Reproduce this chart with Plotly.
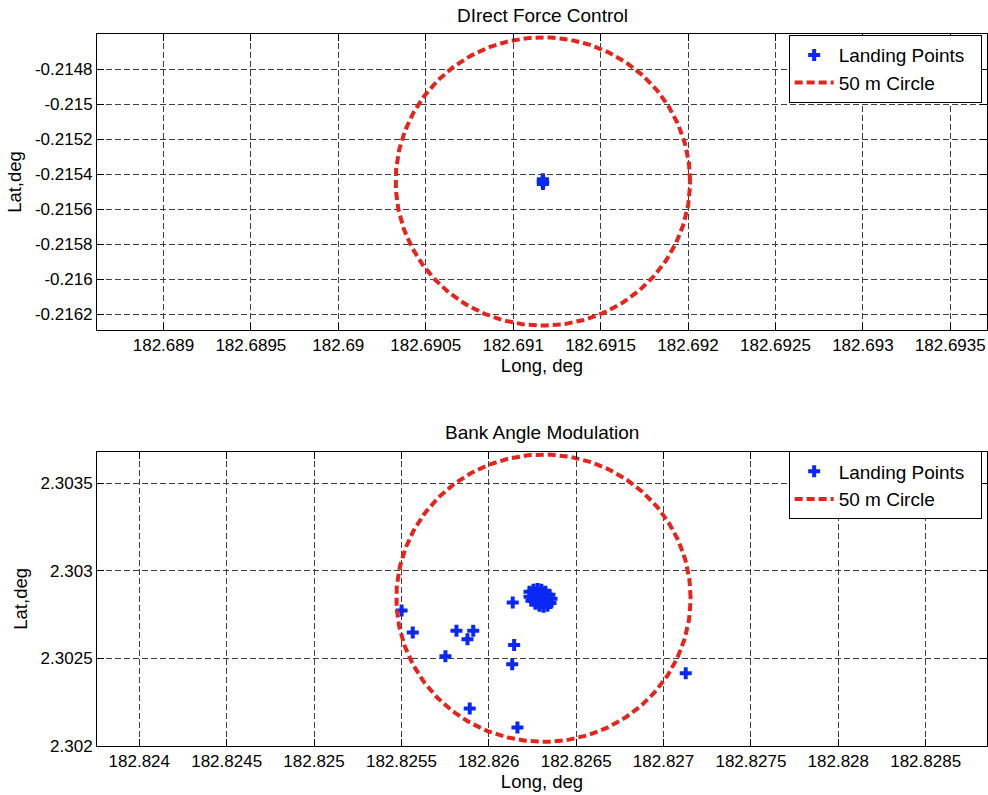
import numpy as np
import plotly.graph_objects as go

# ---------------- data ----------------
# Panel 1: Direct Force Control
dfc_long = [182.691170, 182.691171, 182.691169, 182.691172, 182.691170]
dfc_lat = [-0.215430, -0.215436, -0.215442, -0.215448, -0.215456]
dfc_circle_center = [182.691170, -0.215442]
dfc_circle_radius = [0.000842, 0.000823]

# Panel 2: Bank Angle Modulation
bam_long = [182.825501, 182.825565, 182.825815, 182.825911, 182.825878, 182.825752,
            182.825891, 182.826137, 182.826145, 182.826134, 182.826164, 182.827127,
            182.826233, 182.826256, 182.826279, 182.826301, 182.826324, 182.826347,
            182.826359, 182.826353, 182.826336, 182.826313, 182.826290, 182.826267,
            182.826244, 182.826233, 182.826267, 182.826296, 182.826324, 182.826284,
            182.826307, 182.826256]
bam_lat = [2.302773, 2.302648, 2.302658, 2.302658, 2.302610, 2.302513,
           2.302214, 2.302819, 2.302576, 2.302467, 2.302106, 2.302416,
           2.302880, 2.302892, 2.302897, 2.302892, 2.302880, 2.302863,
           2.302840, 2.302817, 2.302800, 2.302795, 2.302800, 2.302812,
           2.302829, 2.302852, 2.302863, 2.302852, 2.302834, 2.302829,
           2.302869, 2.302846]
bam_circle_center = [182.826313, 2.302844]
bam_circle_radius = [0.000842, 0.000820]

# ticks
dfc_xticks = [182.689, 182.6895, 182.69, 182.6905, 182.691, 182.6915, 182.692, 182.6925, 182.693, 182.6935]
dfc_xtext = ["182.689", "182.6895", "182.69", "182.6905", "182.691", "182.6915", "182.692", "182.6925", "182.693", "182.6935"]
dfc_yticks = [-0.2148, -0.215, -0.2152, -0.2154, -0.2156, -0.2158, -0.216, -0.2162]
dfc_ytext = ["-0.2148", "-0.215", "-0.2152", "-0.2154", "-0.2156", "-0.2158", "-0.216", "-0.2162"]
bam_xticks = [182.824, 182.8245, 182.825, 182.8255, 182.826, 182.8265, 182.827, 182.8275, 182.828, 182.8285]
bam_xtext = ["182.824", "182.8245", "182.825", "182.8255", "182.826", "182.8265", "182.827", "182.8275", "182.828", "182.8285"]
bam_yticks = [2.302, 2.3025, 2.303, 2.3035]
bam_ytext = ["2.302", "2.3025", "2.303", "2.3035"]

titles = ["DIrect Force Control", "Bank Angle Modulation"]
series_names = ["Landing Points", "50 m Circle"]

# ---------------- figure ----------------
FONT = "Liberation Sans, Arial, Helvetica, sans-serif"
BLUE = "#0a28f5"
RED = "#e8231c"
PAD = "\u00a0\u00a0"

theta = np.linspace(0, 2 * np.pi, 361)


def circle(center, radius):
    return (center[0] + radius[0] * np.cos(theta),
            center[1] + radius[1] * np.sin(theta))


fig = go.Figure()

cx, cy = circle(dfc_circle_center, dfc_circle_radius)
fig.add_trace(go.Scatter(x=dfc_long, y=dfc_lat, mode="markers", name=series_names[0] + PAD,
                         marker=dict(symbol="cross", size=10, color=BLUE),
                         xaxis="x", yaxis="y", legend="legend"))
fig.add_trace(go.Scatter(x=cx, y=cy, mode="lines", name=series_names[1] + PAD,
                         line=dict(color=RED, width=4, dash="8px,4px"),
                         xaxis="x", yaxis="y", legend="legend"))

cx2, cy2 = circle(bam_circle_center, bam_circle_radius)
fig.add_trace(go.Scatter(x=bam_long, y=bam_lat, mode="markers", name=series_names[0] + PAD,
                         marker=dict(symbol="cross", size=10, color=BLUE),
                         xaxis="x2", yaxis="y2", legend="legend2"))
fig.add_trace(go.Scatter(x=cx2, y=cy2, mode="lines", name=series_names[1] + PAD,
                         line=dict(color=RED, width=4, dash="8px,4px"),
                         xaxis="x2", yaxis="y2", legend="legend2"))

axis_common = dict(showline=True, linecolor="black", linewidth=1, mirror="ticks",
                   ticks="inside", ticklen=7, tickcolor="black",
                   showgrid=True, gridcolor="#404040", gridwidth=1, griddash="6px,3px",
                   zeroline=False, tickfont=dict(family=FONT, size=17, color="black"),
                   title_font=dict(family=FONT, size=18.5, color="black"))

top_dom = [0.5843, 1.0]
bot_dom = [0.0, 0.4133]

legend_common = dict(xanchor="right", yanchor="middle", bgcolor="white",
                     bordercolor="black", borderwidth=1, itemwidth=39,
                     font=dict(family=FONT, size=19, color="black"))

fig.update_layout(
    width=988, height=795,
    margin=dict(l=97, r=1, t=34, b=49),
    paper_bgcolor="white", plot_bgcolor="white",
    font=dict(family=FONT, color="black"),
    xaxis=dict(axis_common, domain=[0, 1], anchor="y", range=[182.68862, 182.69371],
               tickmode="array", tickvals=dfc_xticks, ticktext=dfc_xtext,
               title=dict(text="Long, deg", standoff=1)),
    yaxis=dict(axis_common, domain=top_dom, anchor="x", range=[-0.21629, -0.21460],
               tickmode="array", tickvals=dfc_yticks, ticktext=dfc_ytext,
               title=dict(text="Lat,deg", standoff=8)),
    xaxis2=dict(axis_common, domain=[0, 1], anchor="y2", range=[182.823758, 182.828851],
                tickmode="array", tickvals=bam_xticks, ticktext=bam_xtext,
                title=dict(text="Long, deg", standoff=1)),
    yaxis2=dict(axis_common, domain=bot_dom, anchor="x2", range=[2.302, 2.30368],
                tickmode="array", tickvals=bam_yticks, ticktext=bam_ytext,
                title=dict(text="Lat,deg", standoff=8)),
    legend=dict(legend_common, x=0.994, y=0.9508),
    legend2=dict(legend_common, x=0.994, y=0.3659),
    annotations=[
        dict(text=titles[0], x=0.5, y=1.0253, xref="paper", yref="paper",
             xanchor="center", yanchor="middle", showarrow=False,
             font=dict(family=FONT, size=19, color="black")),
        dict(text=titles[1], x=0.5, y=0.4403, xref="paper", yref="paper",
             xanchor="center", yanchor="middle", showarrow=False,
             font=dict(family=FONT, size=19, color="black")),
    ],
    showlegend=True,
)

fig.write_html("out.html")
